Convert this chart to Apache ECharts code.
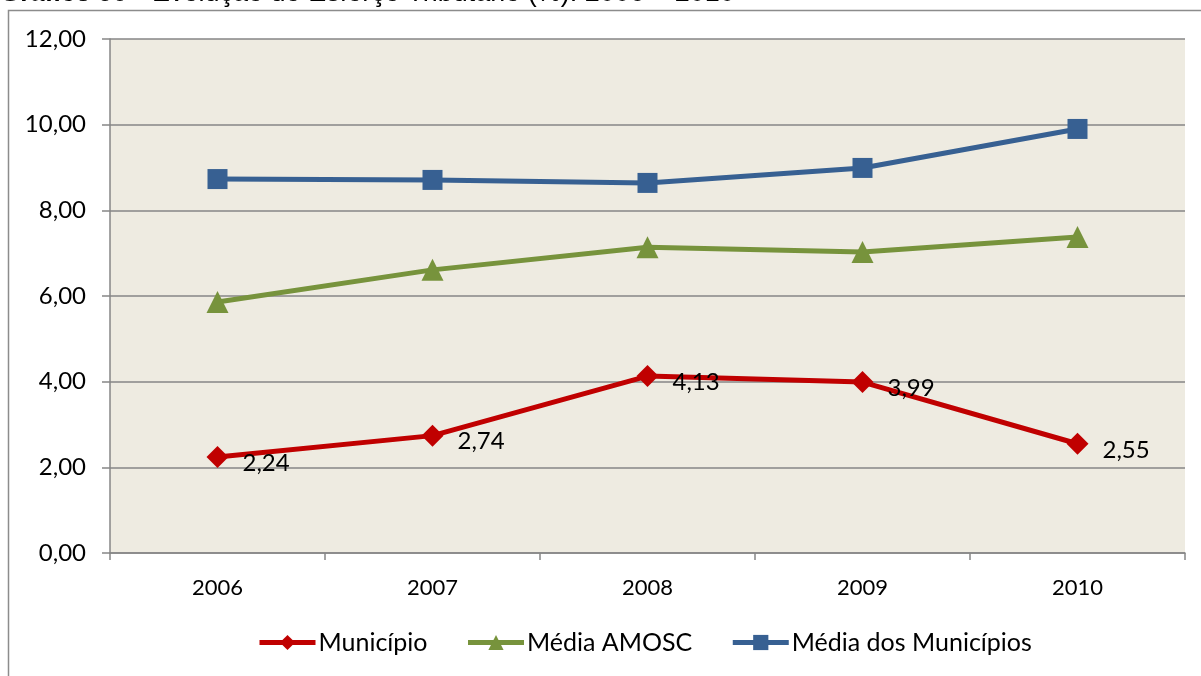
<!DOCTYPE html>
<html><head><meta charset="utf-8">
<script src="https://cdn.jsdelivr.net/npm/echarts@6/dist/echarts.min.js"></script>
<style>html,body{margin:0;padding:0;background:#fff}#c{width:1201px;height:676px}</style>
</head><body><div id="c"></div>
<script>
const categories = ['2006','2007','2008','2009','2010'];
const municipio = [2.24, 2.74, 4.13, 3.99, 2.55];
const mediaAmosc = [5.86, 6.61, 7.14, 7.03, 7.38];
const mediaMunicipios = [8.73, 8.71, 8.64, 8.99, 9.90];
const seriesNames = ['Município', 'Média AMOSC', 'Média dos Municípios'];
const yTicks = { min: 0, max: 12, interval: 2 };

const FONT = 'Lato, "Open Sans", sans-serif';
const TFONT = '"Liberation Sans", Arial, sans-serif';
const fmt = v => v.toFixed(2).replace('.', ',');
const chart = echarts.init(document.getElementById('c'));
chart.setOption({
  animation: false,
  backgroundColor: '#fff',
  graphic: [
    { type: 'rect', shape: { x: 8.5, y: 10.5, width: 1300, height: 800 }, style: { fill: null, stroke: '#8c8c8c', lineWidth: 1.5 }, z: -1 },
    { type: 'text', x: 0, y: -19, style: { text: 'Gráfico 90', fontSize: 26, fontWeight: 'bold', fontFamily: TFONT, fill: '#000' } },
    { type: 'text', x: 122, y: -20, style: { text: ' – Evolução do Esforço Tributário (%): 2006 – 2010', fontSize: 27, fontWeight: 'normal', fontFamily: TFONT, fill: '#000' } }
  ],
  grid: { left: 110, right: 16, top: 39, bottom: 123, show: true, backgroundColor: '#EEEBE1', borderWidth: 0 },
  legend: {
    bottom: 16, left: 252, itemWidth: 56, itemHeight: 19, itemGap: 38,
    lineStyle: { width: 5 },
    textStyle: { fontSize: 25, fontFamily: FONT, color: '#000', padding: [0, 0, 0, -2] },
    data: seriesNames
  },
  xAxis: {
    type: 'category', data: categories, boundaryGap: true,
    axisLine: { lineStyle: { color: '#868686', width: 1.5 } },
    axisTick: { show: true, length: 7, interval: 0, lineStyle: { color: '#868686', width: 1.5 } },
    axisLabel: { fontSize: 22, fontFamily: FONT, color: '#000', margin: 24 }
  },
  yAxis: {
    type: 'value', min: yTicks.min, max: yTicks.max, interval: yTicks.interval,
    axisLine: { show: true, lineStyle: { color: '#868686', width: 1.5 } },
    axisTick: { show: true, length: 8, lineStyle: { color: '#868686', width: 1.5 } },
    splitLine: { lineStyle: { color: '#868686', width: 1.5 } },
    axisLabel: { fontSize: 24, fontFamily: FONT, color: '#000', margin: 24, formatter: fmt }
  },
  series: [
    { name: seriesNames[0], type: 'line', data: municipio, symbol: 'diamond', symbolSize: 22,
      itemStyle: { color: '#C00000' }, lineStyle: { color: '#C00000', width: 5 },
      label: { show: true, position: 'right', distance: 14, offset: [0, 6], formatter: p => fmt(p.value), fontSize: 24, fontFamily: FONT, color: '#000' }, z: 3 },
    { name: seriesNames[1], type: 'line', data: mediaAmosc, symbol: 'triangle', symbolSize: 22,
      itemStyle: { color: '#77933C' }, lineStyle: { color: '#77933C', width: 5 }, z: 2 },
    { name: seriesNames[2], type: 'line', data: mediaMunicipios, symbol: 'rect', symbolSize: 20,
      itemStyle: { color: '#376092' }, lineStyle: { color: '#376092', width: 5 }, z: 2 }
  ]
});
</script></body></html>
